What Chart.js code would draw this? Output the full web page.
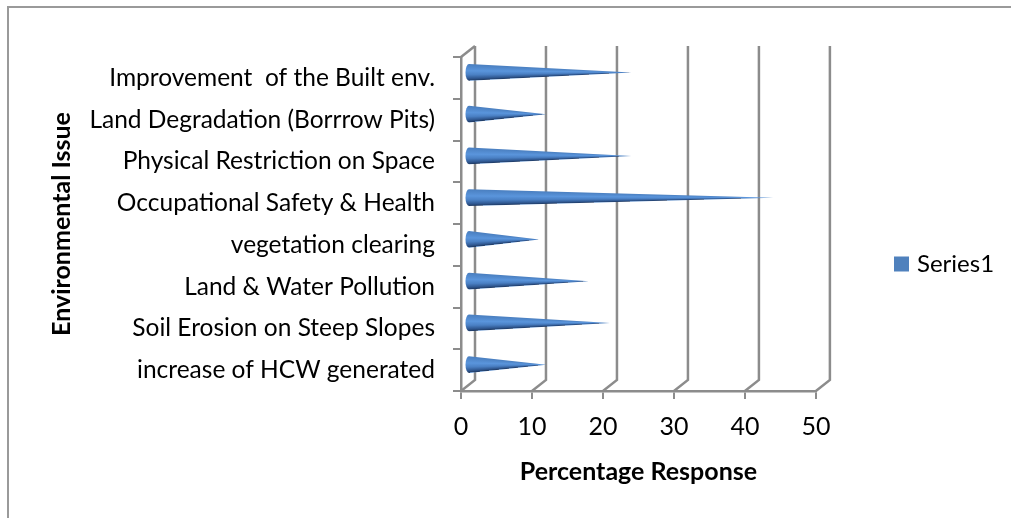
<!DOCTYPE html>
<html>
<head>
<meta charset="utf-8">
<title>Environmental Issue chart</title>
<script src="https://cdn.jsdelivr.net/npm/chart.js@4"></script>
<style>
    html, body { margin: 0; padding: 0; background: #fff; overflow: hidden; }
    #wrap { position: relative; width: 1011px; height: 518px; }
    #frame { position: absolute; left: 7px; top: 6px; right: 0; bottom: 0; border-left: 2px solid #9a9a9a; border-top: 2px solid #9a9a9a; }
    canvas { position: absolute; left: 0; top: 0; }
</style>
</head>
<body>
<div id="wrap">
    <div id="frame"></div>
    <canvas id="myChart" width="1011" height="518"></canvas>
</div>
<script>
const categories = [
    'Improvement  of the Built env.',
    'Land Degradation (Borrrow Pits)',
    'Physical Restriction on Space',
    'Occupational Safety & Health',
    'vegetation clearing',
    'Land & Water Pollution',
    'Soil Erosion on Steep Slopes',
    'increase of HCW generated'
];
const seriesValues = [23, 11, 23, 43, 10, 17, 20, 11];
const xTicks = [0, 10, 20, 30, 40, 50];

const fontName = 'Lato, Carlito, sans-serif';
const wallColor = '#8c8c8c';
const depthX = 14; // 3d depth of the back wall
const depthY = 11;

// color across the cone, bottom edge (0) to top edge (1)
const coneStops = [
    [0, '#1f3a63'],
    [0.12, '#2f5790'],
    [0.35, '#4a80c4'],
    [0.6, '#5a95dc'],
    [1, '#4a7fc0']
];

// back wall and floor lines, behind the cones
const wallsPlugin = {
    id: 'walls',
    beforeDatasetsDraw(chart) {
        const ctx = chart.ctx;
        const x = chart.scales.x;
        const top = chart.chartArea.top;
        const bottom = chart.chartArea.bottom;
        ctx.save();
        ctx.strokeStyle = wallColor;
        ctx.lineWidth = 2.5;
        xTicks.forEach(tick => {
            const px = x.getPixelForValue(tick);
            ctx.beginPath();
            ctx.moveTo(px, bottom);
            ctx.lineTo(px + depthX, bottom - depthY);
            ctx.lineTo(px + depthX, top - depthY);
            ctx.stroke();
        });
        // top of the side wall
        const zero = x.getPixelForValue(0);
        ctx.beginPath();
        ctx.moveTo(zero, top);
        ctx.lineTo(zero + depthX, top - depthY);
        ctx.stroke();
        ctx.restore();
    }
};

// the bars come out as cones, so take over the dataset drawing
const conePlugin = {
    id: 'cones',
    beforeDatasetDraw(chart, args) {
        const ctx = chart.ctx;
        args.meta.data.forEach(bar => {
            const baseX = bar.base + depthX / 2;
            const tipX = bar.x + depthX / 2;
            const y = bar.y - depthY / 2;
            const half = bar.height / 2;
            const rx = 3.5;

            // shade fans out from the tip like on a real cone
            const theta = Math.atan2(half, tipX - baseX + rx);
            const span = (2 * theta) / (2 * Math.PI);
            const grad = ctx.createConicGradient(Math.PI - theta, tipX, y);
            coneStops.forEach(stop => grad.addColorStop(stop[0] * span, stop[1]));

            ctx.save();
            ctx.fillStyle = grad;
            ctx.beginPath();
            ctx.moveTo(tipX, y);
            ctx.lineTo(baseX, y - half);
            ctx.ellipse(baseX, y, rx, half, 0, -Math.PI / 2, Math.PI / 2, true);
            ctx.closePath();
            ctx.fill();
            ctx.restore();
        });
        return false;
    }
};

// pin the legend where it sits in the original
const legendSpot = {
    id: 'legendSpot',
    afterLayout(chart) {
        const legend = chart.legend;
        const w = legend.width;
        const h = legend.height;
        legend.left = 888;
        legend.right = 888 + w;
        legend.top = 264 - h / 2;
        legend.bottom = 264 + h / 2;
    }
};

new Chart(document.getElementById('myChart'), {
    type: 'bar',
    data: {
        labels: categories,
        datasets: [{
            label: 'Series1',
            data: seriesValues,
            backgroundColor: '#4F81BD',
            borderWidth: 0,
            barPercentage: 1,
            categoryPercentage: 0.4
        }]
    },
    plugins: [wallsPlugin, conePlugin, legendSpot],
    options: {
        indexAxis: 'y',
        responsive: false,
        animation: false,
        layout: { padding: { left: 0, top: 57, right: 79, bottom: 31 } },
        plugins: {
            tooltip: { enabled: false },
            legend: {
                position: 'right',
                labels: {
                    // small box with a thick border keeps the text close to the swatch
                    boxWidth: 7,
                    boxHeight: 7,
                    padding: 10,
                    color: '#000',
                    font: { family: fontName, size: 24 },
                    generateLabels(chart) {
                        return Chart.defaults.plugins.legend.labels.generateLabels(chart).map(item => {
                            item.lineWidth = 8;
                            item.strokeStyle = item.fillStyle;
                            return item;
                        });
                    }
                }
            }
        },
        scales: {
            x: {
                type: 'linear',
                min: 0,
                max: 50,
                afterBuildTicks(scale) {
                    scale.ticks = xTicks.map(v => ({ value: v }));
                },
                grid: { drawOnChartArea: false, drawTicks: true, tickLength: 8, color: wallColor, lineWidth: 2 },
                border: { color: wallColor, width: 2.5 },
                ticks: { color: '#000', padding: 13, maxRotation: 0, font: { family: fontName, size: 25 } },
                title: {
                    display: true,
                    text: 'Percentage Response',
                    color: '#000',
                    padding: { top: 2, bottom: 0 },
                    font: { family: fontName, size: 25, weight: 'bold' }
                }
            },
            y: {
                type: 'category',
                afterFit(scale) { scale.width = 461; },
                grid: { offset: true, drawOnChartArea: false, drawTicks: true, tickLength: 8, color: wallColor, lineWidth: 2 },
                border: { color: wallColor, width: 2.5 },
                ticks: { color: '#000', padding: 18, autoSkip: false, font: { family: fontName, size: 24.5 } },
                title: {
                    display: true,
                    text: 'Environmental Issue',
                    color: '#000',
                    padding: { top: 47, bottom: 0 },
                    font: { family: fontName, size: 25, weight: 'bold' }
                }
            }
        }
    }
});
</script>
</body>
</html>
